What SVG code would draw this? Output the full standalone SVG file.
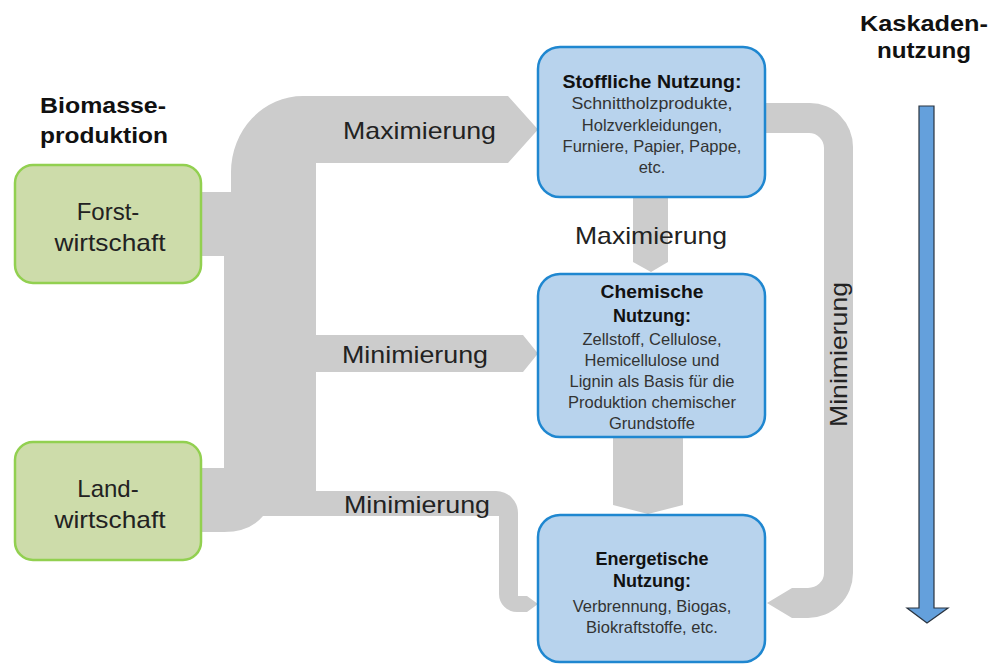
<svg xmlns="http://www.w3.org/2000/svg" width="1006" height="665" viewBox="0 0 1006 665">
<style>
.flow{fill:#cccccc}
.green{fill:#cddcaa;stroke:#92d050;stroke-width:2.5}
.blue{fill:#b8d3ed;stroke:#1f87d0;stroke-width:2.5}
text{font-family:"Liberation Sans",Arial,sans-serif}
.lbl{font-size:24px;fill:#222}
.gtxt{font-size:24px;fill:#222;text-anchor:middle}
.head{font-size:22px;font-weight:bold;fill:#111;text-anchor:middle}
.title{font-size:18px;font-weight:bold;fill:#111;text-anchor:middle}
.body{font-size:16.5px;fill:#333;text-anchor:middle}
</style>
<rect width="1006" height="665" fill="#ffffff"/>
<g id="connectors">
<path class="flow" d="M 201 192 L 231 192 L 231 172 A 72 76 0 0 1 303 96 L 508 96 L 538 129.5 L 508 163 L 316 163 L 316 335 L 523 335 L 538 353.5 L 523 372 L 316 372 L 316 491 L 496 491 A 22 22 0 0 1 518 513 L 518 596 L 527 596 L 538 604 L 527 612 L 517 612 A 18 18 0 0 1 499 594 L 499 516 L 263 516 Q 250 532 224 532 L 201 532 L 201 468 L 224 468 L 224 256 L 201 256 Z"/>
<path class="flow" d="M 765 103 L 810 103 A 43 44 0 0 1 853 147 L 853 573 A 45 45 0 0 1 808 618 L 792 618 L 767 603 L 792 588 L 808 588 A 16 15 0 0 0 824 573 L 824 148 A 15 15 0 0 0 809 133 L 765 133 Z"/>
<polygon class="flow" points="633,196 668,196 668,262 651,272 633,262"/>
<polygon class="flow" points="613,436 683,436 683,505 648,514 613,505"/>
<text class="lbl" x="343" y="139" textLength="153" lengthAdjust="spacingAndGlyphs">Maximierung</text>
<text class="lbl" x="575" y="244" textLength="152" lengthAdjust="spacingAndGlyphs">Maximierung</text>
<text class="lbl" x="342" y="363" textLength="146" lengthAdjust="spacingAndGlyphs">Minimierung</text>
<text class="lbl" x="344" y="513" textLength="146" lengthAdjust="spacingAndGlyphs">Minimierung</text>
<text class="lbl" transform="translate(847,427) rotate(-90)" x="0" y="0" textLength="145" lengthAdjust="spacingAndGlyphs">Minimierung</text>
</g>
<g id="title-biomasse">
<text class="head" x="103" y="113" textLength="126" lengthAdjust="spacingAndGlyphs">Biomasse-</text>
<text class="head" x="104" y="143" textLength="128" lengthAdjust="spacingAndGlyphs">produktion</text>
</g>
<g id="title-kaskade">
<text class="head" x="924" y="31" textLength="128" lengthAdjust="spacingAndGlyphs">Kaskaden-</text>
<text class="head" x="924" y="58" textLength="94" lengthAdjust="spacingAndGlyphs">nutzung</text>
</g>
<g id="node-forst">
<rect class="green" x="15" y="165" width="186" height="118" rx="18"/>
<text class="gtxt" x="108" y="220">Forst-</text>
<text class="gtxt" x="110" y="251" textLength="111" lengthAdjust="spacingAndGlyphs">wirtschaft</text>
</g>
<g id="node-land">
<rect class="green" x="15" y="442" width="186" height="118" rx="18"/>
<text class="gtxt" x="108" y="497">Land-</text>
<text class="gtxt" x="110" y="528" textLength="111" lengthAdjust="spacingAndGlyphs">wirtschaft</text>
</g>
<g id="node-stofflich">
<rect class="blue" x="538" y="47" width="227" height="150" rx="22"/>
<text class="title" x="652" y="88" textLength="179" lengthAdjust="spacingAndGlyphs">Stoffliche Nutzung:</text>
<text class="body" x="652" y="109" textLength="161" lengthAdjust="spacingAndGlyphs">Schnittholzprodukte,</text>
<text class="body" x="652" y="131">Holzverkleidungen,</text>
<text class="body" x="652" y="152">Furniere, Papier, Pappe,</text>
<text class="body" x="652" y="173">etc.</text>
</g>
<g id="node-chemisch">
<rect class="blue" x="538" y="274" width="227" height="163" rx="22"/>
<text class="title" x="652" y="298" textLength="103" lengthAdjust="spacingAndGlyphs">Chemische</text>
<text class="title" x="652" y="322">Nutzung:</text>
<text class="body" x="652" y="345">Zellstoff, Cellulose,</text>
<text class="body" x="652" y="366">Hemicellulose und</text>
<text class="body" x="652" y="387">Lignin als Basis für die</text>
<text class="body" x="652" y="408">Produktion chemischer</text>
<text class="body" x="652" y="429">Grundstoffe</text>
</g>
<g id="node-energetisch">
<rect class="blue" x="538" y="515" width="227" height="147" rx="22"/>
<text class="title" x="652" y="565">Energetische</text>
<text class="title" x="652" y="587">Nutzung:</text>
<text class="body" x="652" y="612">Verbrennung, Biogas,</text>
<text class="body" x="652" y="633">Biokraftstoffe, etc.</text>
</g>
<g id="cascade-arrow">
<polygon points="919,106 934,106 934,608 948,608 927,623 907,608 919,608" fill="#64a0dc" stroke="#2a3440" stroke-width="1.2"/>
</g>
</svg>
